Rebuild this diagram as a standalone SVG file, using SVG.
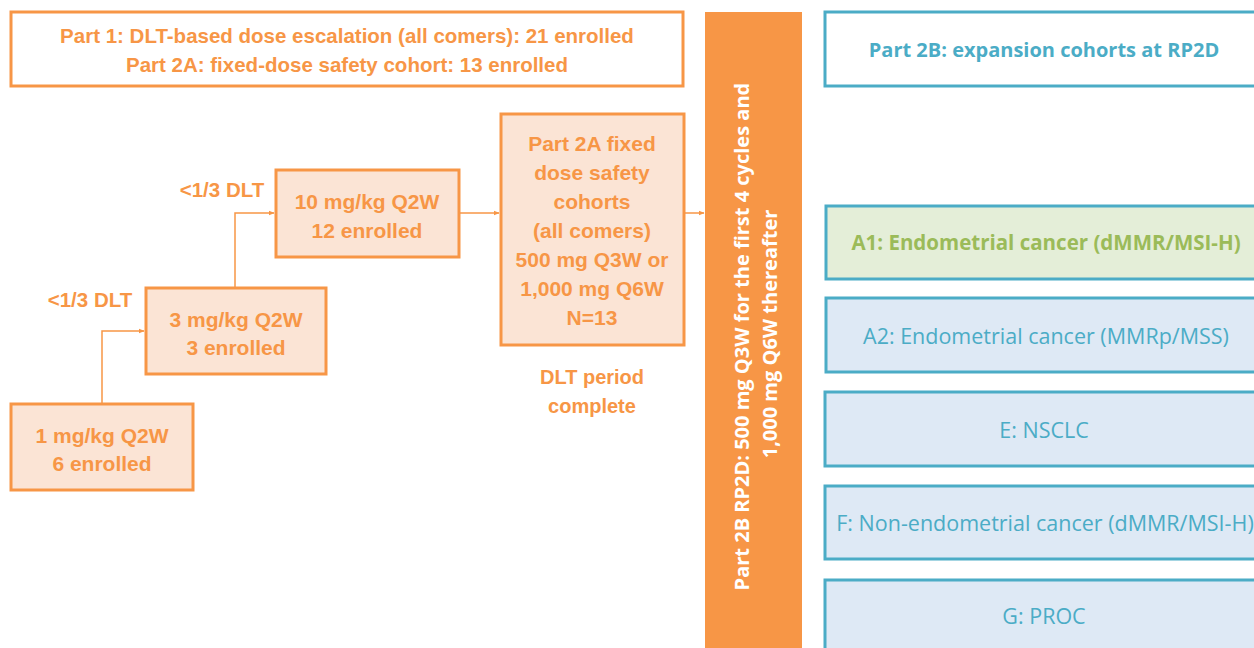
<svg xmlns="http://www.w3.org/2000/svg" width="1254" height="648" viewBox="0 0 1254 648">
<defs>
<style>
.ob{fill:#fbe4d5;stroke:#f79646;stroke-width:3}
.ow{fill:#ffffff;stroke:#f79646;stroke-width:3}
.bw{fill:#ffffff;stroke:#4bacc6;stroke-width:3}
.bb{fill:#dee9f5;stroke:#4bacc6;stroke-width:3}
.bg{fill:#e4eed8;stroke:#4bacc6;stroke-width:3}
.ot{font-family:"Liberation Sans",Arial,sans-serif;font-size:21px;font-weight:bold;fill:#f79646;text-anchor:middle}
.oh{font-size:20.5px}
.od{font-size:20px}
.bt{font-family:"Open Sans","DejaVu Sans",sans-serif;font-size:21.5px;fill:#4bacc6;text-anchor:middle}
.bth{font-weight:bold;font-size:20px}
.gt{font-family:"Open Sans","DejaVu Sans",sans-serif;font-size:20.5px;font-weight:bold;fill:#9bbb59;text-anchor:middle}
.wt{font-family:"Open Sans","DejaVu Sans",sans-serif;font-size:20px;font-weight:bold;fill:#ffffff;text-anchor:middle}
.cn{fill:none;stroke:#f79646;stroke-width:1.5}
</style>
<marker id="ah" viewBox="0 0 10 10" refX="9" refY="5" markerWidth="6" markerHeight="6" orient="auto" markerUnits="userSpaceOnUse">
<path d="M0,1 L10,5 L0,9 z" fill="#f79646"/>
</marker>
</defs>

<g id="connectors">
<path class="cn" d="M102,404 V331 H144" marker-end="url(#ah)"/>
<path class="cn" d="M235,288 V213 H274" marker-end="url(#ah)"/>
<path class="cn" d="M459,213 H499" marker-end="url(#ah)"/>
<path class="cn" d="M684,213 H704" marker-end="url(#ah)"/>
</g>

<g id="header-left">
<rect class="ow" x="11" y="12" width="672" height="74"/>
<text class="ot oh" x="347" y="43">Part 1: DLT-based dose escalation (all comers): 21 enrolled</text>
<text class="ot oh" x="347" y="72">Part 2A: fixed-dose safety cohort: 13 enrolled</text>
</g>

<g id="label-dlt1">
<text class="ot oh" x="90" y="307">&lt;1/3 DLT</text>
</g>
<g id="label-dlt2">
<text class="ot oh" x="222" y="197">&lt;1/3 DLT</text>
</g>

<g id="dose1">
<rect class="ob" x="11" y="404" width="182" height="86"/>
<text class="ot" x="102" y="443">1 mg/kg Q2W</text>
<text class="ot" x="102" y="471">6 enrolled</text>
</g>

<g id="dose3">
<rect class="ob" x="146" y="288" width="180" height="86"/>
<text class="ot" x="236" y="327">3 mg/kg Q2W</text>
<text class="ot" x="236" y="355">3 enrolled</text>
</g>

<g id="dose10">
<rect class="ob" x="276" y="170" width="183" height="87"/>
<text class="ot" x="367" y="209">10 mg/kg Q2W</text>
<text class="ot" x="367" y="238">12 enrolled</text>
</g>

<g id="part2a">
<rect class="ob" x="501" y="114" width="183" height="231"/>
<text class="ot" x="592" y="151">Part 2A fixed</text>
<text class="ot" x="592" y="180">dose safety</text>
<text class="ot" x="592" y="209">cohorts</text>
<text class="ot" x="592" y="238">(all comers)</text>
<text class="ot" x="592" y="267">500 mg Q3W or</text>
<text class="ot" x="592" y="296">1,000 mg Q6W</text>
<text class="ot" x="592" y="325">N=13</text>
</g>

<g id="dlt-complete">
<text class="ot od" x="592" y="384">DLT period</text>
<text class="ot od" x="592" y="413">complete</text>
</g>

<g id="rp2d-bar">
<rect x="705" y="12" width="97" height="640" fill="#f79646"/>
<text class="wt" transform="translate(753,334) rotate(-90)">
<tspan x="0" y="-4">Part 2B RP2D: 500 mg Q3W for the first 4 cycles and</tspan>
<tspan x="0" y="24">1,000 mg Q6W thereafter</tspan>
</text>
</g>

<g id="header-right">
<rect class="bw" x="825" y="12" width="440" height="74"/>
<text class="bt bth" x="1044" y="57">Part 2B: expansion cohorts at RP2D</text>
</g>

<g id="cohort-a1">
<rect class="bg" x="826" y="206" width="440" height="73"/>
<text class="gt" x="1046" y="250">A1: Endometrial cancer (dMMR/MSI-H)</text>
</g>

<g id="cohort-a2">
<rect class="bb" x="826" y="298" width="440" height="74"/>
<text class="bt" x="1046" y="344">A2: Endometrial cancer (MMRp/MSS)</text>
</g>

<g id="cohort-e">
<rect class="bb" x="825" y="392" width="440" height="74"/>
<text class="bt" x="1044" y="438">E: NSCLC</text>
</g>

<g id="cohort-f">
<rect class="bb" x="825" y="486" width="440" height="73"/>
<text class="bt" x="1045" y="531">F: Non-endometrial cancer (dMMR/MSI-H)</text>
</g>

<g id="cohort-g">
<rect class="bb" x="825" y="580" width="440" height="80"/>
<text class="bt" x="1044" y="624">G: PROC</text>
</g>
</svg>
